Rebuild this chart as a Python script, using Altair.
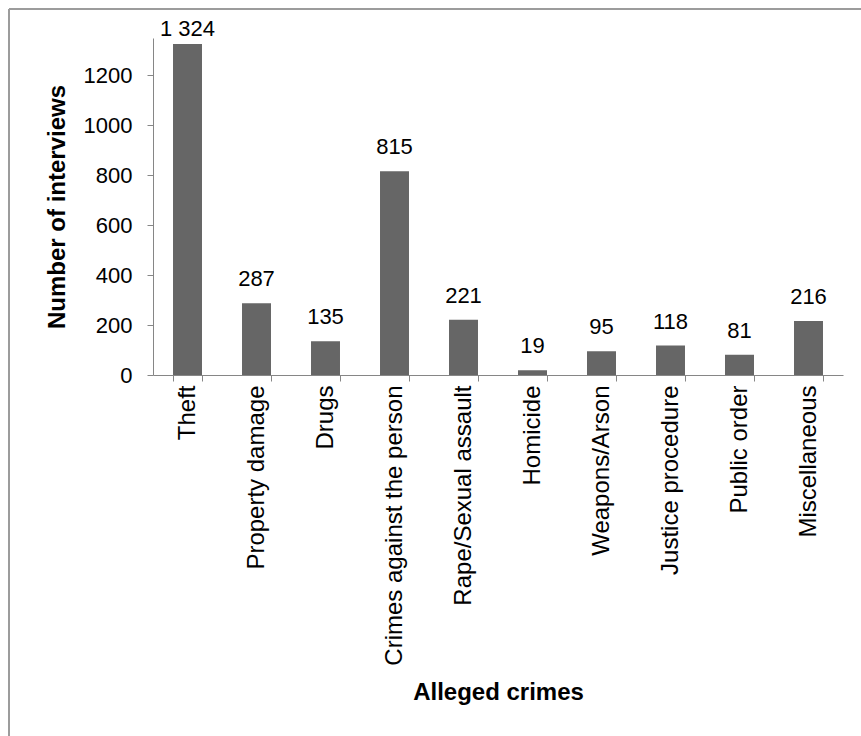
import altair as alt
import pandas as pd

categories = ["Theft", "Property damage", "Drugs", "Crimes against the person",
              "Rape/Sexual assault", "Homicide", "Weapons/Arson",
              "Justice procedure", "Public order", "Miscellaneous"]
counts = [1324, 287, 135, 815, 221, 19, 95, 118, 81, 216]
y_ticks = [0, 200, 400, 600, 800, 1000, 1200]

df = pd.DataFrame({"crime": categories, "n": counts})
df["label"] = [f"{v:,}".replace(",", " ") for v in counts]

FONT = "Liberation Sans"
AX = "#868686"

x_enc = alt.X("crime:N", sort=categories, title="Alleged crimes",
              scale=alt.Scale(paddingInner=0.58, paddingOuter=0.29),
              axis=alt.Axis(labelAngle=-90, labelFontSize=24, titleFontSize=24,
                            titleFontWeight="bold", tickBand="extent", tickSize=6,
                            labelPadding=4, titleY=317, titleBaseline="middle",
                            domainColor=AX, tickColor=AX, labelColor="black",
                            titleColor="black", labelFont=FONT, titleFont=FONT,
                            labelLimit=0))
y_enc = alt.Y("n:Q", title="Number of interviews",
              scale=alt.Scale(domain=[0, 1348], nice=False),
              axis=alt.Axis(values=y_ticks, format="d", grid=False, tickSize=6,
                            labelPadding=15, labelFontSize=22, titleFontSize=24,
                            titleFontWeight="bold", titlePadding=14,
                            domainColor=AX, tickColor=AX, labelColor="black",
                            titleColor="black", labelFont=FONT, titleFont=FONT))

frame_df = pd.DataFrame({"k": [0]})
frame_top = alt.Chart(frame_df).mark_rule(color="#9c9c9c", strokeWidth=2).encode(
    x=alt.value(-144), x2=alt.value(720), y=alt.value(-29))
frame_left = alt.Chart(frame_df).mark_rule(color="#9c9c9c", strokeWidth=2).encode(
    x=alt.value(-144), y=alt.value(-29), y2=alt.value(720))

bars = alt.Chart(df).mark_bar(color="#666666").encode(x=x_enc, y=y_enc)

text = alt.Chart(df).transform_calculate(ly="min(datum.n, 1290)").mark_text(
    dy=-17, baseline="alphabetic", fontSize=22, font=FONT, color="black"
).encode(x=alt.X("crime:N", sort=categories),
         y=alt.Y("ly:Q", title="Number of interviews"),
         text="label:N")

chart = alt.layer(frame_top, frame_left, bars, text).properties(
    width=690, height=337,
    autosize=alt.AutoSizeParams(type="none"),
    padding={"left": 153, "top": 38, "right": 18, "bottom": 361},
).configure_view(strokeWidth=0)

chart.save("out.html", embed_options={"renderer": "svg", "actions": False})
